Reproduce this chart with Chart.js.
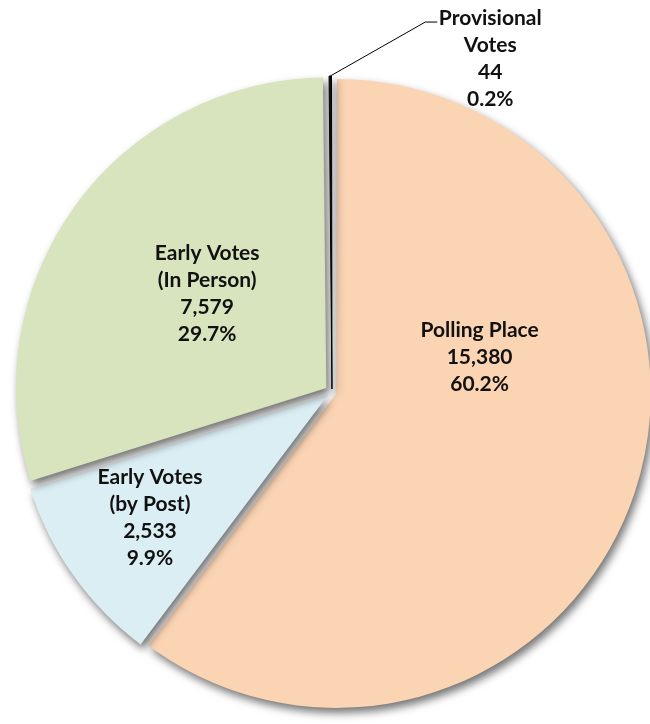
<!DOCTYPE html>
<html>
<head>
<meta charset="utf-8">
<script src="https://cdn.jsdelivr.net/npm/chart.js@4.4.1/dist/chart.umd.min.js"></script>
<style>
  html, body { margin: 0; padding: 0; background: #fff; }
  #wrap { width: 650px; height: 724px; position: relative; }
</style>
</head>
<body>
<div id="wrap"><canvas id="pie-chart"></canvas></div>
<script>
// Datos del gráfico
const categorias = [
  ["Polling Place"],
  ["Early Votes", "(by Post)"],
  ["Early Votes", "(In Person)"],
  ["Provisional", "Votes"]
];
const votos = [15380, 2533, 7579, 44];
const colores = ["#fbd4b4", "#dbeef4", "#d7e4bd", "#111111"];

const total = votos.reduce((a, b) => a + b, 0);

// cuanto se mueve de verdad una porción con "offset" (igual que ArcElement)
function desplazamiento(off, circ) {
  const fix = 1 - Math.sin(Math.min(Math.PI, circ || 0));
  return off / 4 * (1 + fix);
}

// sombra debajo de las porciones
const sombraPlugin = {
  id: "sombra",
  beforeDatasetsDraw(chart) {
    const ctx = chart.ctx;
    ctx.save();
    ctx.shadowColor = "rgba(0,0,0,0.55)";
    ctx.shadowBlur = 8;
    ctx.shadowOffsetX = 3;
    ctx.shadowOffsetY = 5;
  },
  afterDatasetsDraw(chart) {
    chart.ctx.restore();
  }
};

// etiquetas dentro de cada porción (y la de provisional afuera con línea)
const etiquetasPlugin = {
  id: "etiquetas",
  afterDraw(chart, args, opts) {
    const ctx = chart.ctx;
    const meta = chart.getDatasetMeta(0);
    const ds = chart.data.datasets[0];
    ctx.save();
    ctx.font = opts.font;
    ctx.fillStyle = "#111";
    ctx.textAlign = "center";
    ctx.textBaseline = "middle";
    meta.data.forEach((arc, i) => {
      const p = arc.getProps(["x", "y", "startAngle", "endAngle", "outerRadius", "circumference"], true);
      const off = desplazamiento(ds.offset[i], p.circumference);
      const mid = (p.startAngle + p.endAngle) / 2;
      const lines = categorias[i].concat([
        votos[i].toLocaleString("en-US"),
        (votos[i] / total * 100).toFixed(1) + "%"
      ]);
      let cx, cy;
      if (opts.fuera[i]) {
        // punto en el borde de la porción
        const ax = p.x + Math.cos(mid) * (p.outerRadius + off);
        const ay = p.y + Math.sin(mid) * (p.outerRadius + off);
        const ex = ax + 95, ey = ay - 54;
        ctx.beginPath();
        ctx.moveTo(ax, ay);
        ctx.lineTo(ex, ey);
        ctx.lineTo(ex + 12, ey);
        ctx.strokeStyle = "#000";
        ctx.lineWidth = 1;
        ctx.stroke();
        cx = ex + 65;
        cy = ey + 37;
      } else {
        const ang = mid + opts.giro[i] * Math.PI / 180;
        cx = p.x + Math.cos(mid) * off + Math.cos(ang) * opts.radio[i] * p.outerRadius;
        cy = p.y + Math.sin(mid) * off + Math.sin(ang) * opts.radio[i] * p.outerRadius;
      }
      const lh = opts.interlineado;
      const y0 = cy - (lines.length - 1) * lh / 2;
      lines.forEach((t, k) => ctx.fillText(t, cx, y0 + k * lh));
    });
    ctx.restore();
  }
};

const contenedorPie = document.querySelector("#pie-chart").getContext("2d");

const dataPie = {
  labels: categorias,
  datasets: [{
    label: "Votes",
    data: votos,
    backgroundColor: colores,
    borderWidth: [0, 0, 0, 1],
    borderColor: "#000",
    offset: [18, 20, 28, 12]
  }]
};

const configPie = {
  type: "pie",
  data: dataPie,
  options: {
    responsive: true,
    maintainAspectRatio: false,
    animation: false,
    radius: 310,
    layout: { padding: { left: 14, top: 60, right: 0, bottom: 0 } },
    plugins: {
      legend: { display: false },
      tooltip: { enabled: false },
      etiquetas: {
        font: "bold 21px Lato",
        interlineado: 27,
        radio: [0.465, 0.691, 0.49, 0],
        giro: [-33.7, 0.7, 2.5, 0],
        fuera: [false, false, false, true]
      }
    }
  },
  plugins: [sombraPlugin, etiquetasPlugin]
};

const pieChart = new Chart(contenedorPie, configPie);
</script>
</body>
</html>
